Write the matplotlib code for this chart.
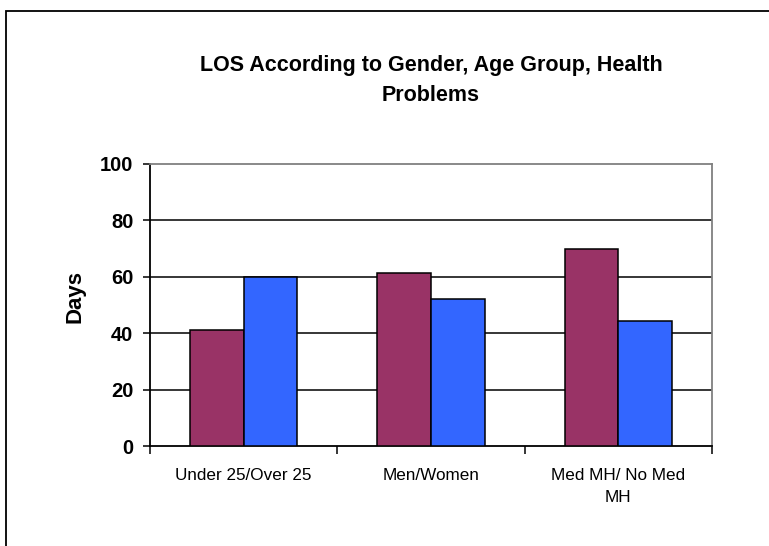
import matplotlib.pyplot as plt
import numpy as np
from matplotlib.patches import Rectangle

# chart data
categories = ["Under 25/Over 25", "Men/Women", "Med MH/ No Med\nMH"]
first_values = [41, 61.5, 70]     # under 25 / men / med MH
second_values = [60, 52.3, 44.5]  # over 25 / women / no med MH
yticks = [0, 20, 40, 60, 80, 100]

plt.rcParams['font.family'] = ['Liberation Sans', 'DejaVu Sans']

fig = plt.figure(figsize=(7.69, 5.46), dpi=100)

# outer chart frame (only left and top are inside the picture)
fig.patches.append(Rectangle((6 / 769, -0.1), 1.2, (546 - 11) / 546 + 0.1,
                             transform=fig.transFigure, fill=False,
                             edgecolor='black', linewidth=1.3))

ax = fig.add_axes([150 / 769, 100 / 546, 562 / 769, 282 / 546])

x = np.arange(len(categories))
width = 0.286
ax.bar(x - width / 2, first_values, width, color='#993366',
       edgecolor='black', linewidth=1.1, zorder=3)
ax.bar(x + width / 2, second_values, width, color='#3366FF',
       edgecolor='black', linewidth=1.1, zorder=3)

ax.set_xlim(-0.5, len(categories) - 0.5)
ax.set_ylim(0, 100)
ax.set_yticks(yticks)
ax.set_yticklabels([str(v) for v in yticks], fontsize=14.5, fontweight='bold')

# horizontal grid lines
for v in yticks[1:-1]:
    ax.axhline(v, color='black', linewidth=1.1, zorder=1)

# category labels centered, ticks at category boundaries
ax.set_xticks(np.arange(len(categories) + 1) - 0.5)
ax.set_xticklabels([])
ax.set_xticks(x, minor=True)
ax.set_xticklabels(categories, minor=True, fontsize=12.3, linespacing=1.6)
ax.tick_params(axis='x', which='minor', length=0, pad=15.5)
ax.tick_params(axis='x', which='major', length=5.5, width=1.1, direction='out')
ax.tick_params(axis='y', length=5, width=1.1, direction='out', pad=7)

for s in ['left', 'bottom']:
    ax.spines[s].set_linewidth(1.3)
for s in ['top', 'right']:
    ax.spines[s].set_color('#808080')
    ax.spines[s].set_linewidth(1.3)

ax.set_ylabel("Days", fontsize=16, fontweight='bold')
ax.yaxis.set_label_coords(-0.114, 0.53)
ax.set_title("LOS According to Gender, Age Group, Health\nProblems",
             fontsize=15.5, fontweight='bold', linespacing=1.6, pad=45)

fig.savefig("out.png", dpi=100)
